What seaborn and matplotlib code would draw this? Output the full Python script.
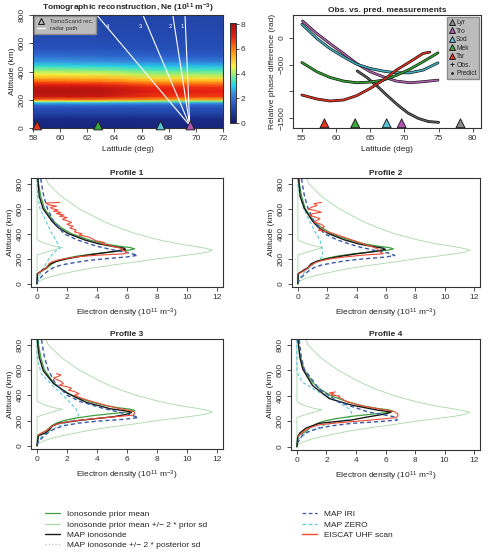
import numpy as np
import matplotlib
matplotlib.use("Agg")
import matplotlib.pyplot as plt
import seaborn as sns
from matplotlib.lines import Line2D
from matplotlib.colors import LinearSegmentedColormap

sns.set_style("ticks")
plt.rcParams["font.family"] = ["Liberation Sans", "DejaVu Sans"]
plt.rcParams["font.size"] = 6
plt.rcParams["axes.edgecolor"] = "#333333"
plt.rcParams["axes.linewidth"] = 0.8
plt.rcParams["xtick.color"] = "#333333"
plt.rcParams["ytick.color"] = "#333333"
plt.rcParams["mathtext.default"] = "regular"

# ---- tomographic reconstruction (Ne, 1e11 m^-3), read per latitude column ----
heat_lat = [58, 63, 67, 72]
heat_alt = [0, 60, 100, 140, 165, 180, 192, 205, 225, 260, 290, 310, 330, 350, 380, 410, 440, 470, 510, 560, 650, 800]
ne_lat58 = [0.3, 0.4, 1.0, 1.3, 1.9, 2.9, 4.6, 6.5, 7.6, 7.8, 7.6, 7.0, 6.3, 5.5, 4.6, 3.9, 3.2, 2.5, 1.9, 1.4, 1.2, 1.1]
ne_lat63 = [0.3, 0.4, 1.0, 1.3, 1.9, 2.8, 4.4, 6.3, 7.5, 7.7, 7.5, 6.9, 6.1, 5.4, 4.5, 3.8, 3.1, 2.4, 1.8, 1.4, 1.2, 1.1]
ne_lat67 = [0.3, 0.4, 1.0, 1.3, 1.8, 2.6, 4.0, 5.8, 6.8, 7.1, 6.9, 6.3, 5.6, 4.9, 4.1, 3.5, 2.9, 2.2, 1.7, 1.3, 1.2, 1.1]
ne_lat72 = [0.3, 0.4, 1.0, 1.3, 1.8, 2.6, 3.9, 5.6, 6.7, 7.0, 6.8, 6.2, 5.5, 4.8, 4.0, 3.4, 2.8, 2.1, 1.6, 1.3, 1.2, 1.1]

# colour scale of the map (value, colour)
cmap_vals = [0, 0.9, 1.6, 2.4, 3.0, 3.5, 4.0, 4.6, 5.4, 6.2, 7.0, 8.1]
cmap_cols = ["#151a6e", "#1f3d9e", "#2a5cc8", "#3a90e0", "#20d0f0", "#50e8b0",
             "#a0f070", "#f8f040", "#ffb020", "#ff6a10", "#e82010", "#a01010"]

# radar paths from Tromso
radar_lat = 69.55
path_top_lat = [69.2, 68.3, 66.1, 62.7]
path_labels = ["1", "2", "3", "4"]
path_label_lat = [69.0, 68.1, 65.9, 63.5]

# receivers
rec_names = ["Lyr", "Tro", "Sod", "Mek", "Tar"]
rec_lat = [78.2, 69.6, 67.4, 62.8, 58.3]
rec_colors = ["#8a8a8a", "#b455b4", "#55c3d3", "#3aa83a", "#e8321e"]
line_colors = ["#5a5a5a", "#b060b0", "#40b0c0", "#30a030", "#e03020"]

# ---- observed vs predicted relative phase (rad) ----
lyr_lat = [63.1, 64.5, 66, 67.5, 69, 70.5, 72, 73.5, 75]
lyr_phase = [-620, -740, -900, -1080, -1250, -1400, -1500, -1560, -1575]
tro_lat = [55.1, 57.2, 59.1, 61.1, 63.0, 65.0, 66.9, 68.8, 70.8, 72.7, 74.9]
tro_phase = [308, 74, -111, -296, -481, -635, -728, -808, -839, -820, -790]
sod_lat = [55.0, 57.2, 59.1, 61.1, 63.0, 65.0, 66.9, 68.8, 70.8, 72.7, 74.9]
sod_phase = [247, -18, -204, -358, -494, -574, -623, -654, -654, -605, -469]
mek_lat = [55.0, 57.2, 59.1, 61.1, 63.0, 65.0, 66.9, 68.8, 70.8, 72.7, 74.9]
mek_phase = [-463, -635, -740, -808, -839, -827, -790, -703, -586, -450, -284]
tar_lat = [55.0, 57.2, 59.1, 61.1, 63.0, 65.0, 66.9, 68.8, 70.8, 72.7, 73.7]
tar_phase = [-1067, -1141, -1178, -1160, -1080, -944, -790, -605, -450, -296, -270]
phase_lats = [lyr_lat, tro_lat, sod_lat, mek_lat, tar_lat]
phase_vals = [lyr_phase, tro_phase, sod_phase, mek_phase, tar_phase]

# ---- ionosonde prior (same in every profile) ----
prior_alt = [840, 800, 700, 600, 500, 450, 400, 350, 320, 300, 290, 280, 270, 255, 240, 220, 200, 180, 160, 140, 120, 100, 85, 0]
prior_mean = [0.08, 0.1, 0.25, 0.5, 1.1, 1.6, 2.3, 3.5, 4.5, 5.5, 6.2, 6.5, 6.2, 5.0, 3.8, 2.6, 1.8, 1.3, 1.0, 0.8, 0.6, 0.3, 0.05, 0]
prior_hi_alt = [840, 800, 700, 600, 500, 450, 400, 350, 320, 300, 285, 270, 255, 240, 220, 200, 175, 150, 125, 100, 80, 60, 40, 20, 0]
prior_hi = [0.6, 0.75, 1.6, 2.8, 4.4, 5.4, 6.6, 8.2, 9.4, 10.5, 11.2, 11.7, 11.4, 10.7, 9.4, 8.0, 6.6, 5.0, 3.6, 2.5, 1.7, 1.0, 0.45, 0.1, 0]
prior_lo_alt = [840, 355, 340, 320, 300, 290, 275, 260, 245, 230, 0]
prior_lo = [0, 0, 0.2, 0.6, 1.2, 1.7, 1.25, 0.8, 0.4, 0, 0]

# ---- profile 1 ----
p1_map_alt = [840, 800, 700, 600, 500, 450, 400, 350, 320, 300, 285, 275, 260, 240, 220, 200, 180, 160, 140, 130, 110, 90, 80, 0]
p1_map = [0.05, 0.08, 0.15, 0.4, 1.0, 1.4, 2.1, 3.2, 4.1, 5.0, 5.8, 5.9, 5.2, 4.0, 2.9, 2.0, 1.3, 0.9, 0.7, 0.65, 0.35, 0.15, 0.02, 0]
p1_iri_alt = [840, 800, 700, 600, 500, 400, 350, 300, 265, 245, 228, 215, 200, 185, 170, 150, 130, 100, 70, 40, 15]
p1_iri = [0.25, 0.3, 0.45, 0.7, 1.1, 1.8, 2.7, 4.0, 5.3, 6.2, 6.7, 6.0, 4.5, 3.3, 2.5, 1.6, 1.1, 0.7, 0.4, 0.15, 0]
p1_zero_alt = [840, 700, 600, 500, 400, 340, 300, 285, 270, 250, 200, 150, 100, 50, 0]
p1_zero = [0, 0.05, 0.2, 0.6, 1.0, 1.3, 1.45, 1.5, 1.35, 1.1, 0.8, 0.55, 0.3, 0.1, 0]
p1_uhf_alt = [650, 645, 630, 620, 610, 600, 590, 580, 570, 560, 550, 540, 530, 515, 500, 490, 475, 460, 445, 430, 415, 400, 390, 375, 360, 345, 330, 320, 310, 300, 290, 280, 270, 260, 250, 240, 230, 220, 210, 200, 190, 180, 170, 160, 150, 140, 125, 110, 95, 80]
p1_uhf = [1.5, 0.6, 0.8, 1.3, 0.9, 1.0, 1.4, 1.1, 1.6, 1.3, 1.8, 1.5, 2.0, 1.7, 2.1, 2.3, 2.0, 2.4, 2.2, 2.6, 2.5, 3.0, 2.8, 3.4, 3.7, 3.9, 4.5, 4.3, 4.8, 5.0, 5.4, 5.7, 5.6, 5.9, 6.0, 5.8, 4.2, 3.0, 2.3, 1.8, 1.4, 1.1, 0.9, 0.8, 0.75, 0.7, 0.6, 0.4, 0.2, 0.05]

# ---- profile 2 ----
p2_map_alt = [840, 800, 700, 600, 500, 450, 400, 350, 320, 300, 285, 275, 260, 240, 220, 200, 180, 160, 140, 130, 110, 90, 80, 0]
p2_map = [0.05, 0.08, 0.15, 0.45, 1.0, 1.4, 2.1, 3.2, 4.1, 5.0, 5.8, 5.95, 5.3, 4.0, 2.9, 2.0, 1.3, 0.9, 0.75, 0.7, 0.4, 0.15, 0.02, 0]
p2_iri_alt = [840, 800, 700, 600, 500, 400, 350, 300, 265, 245, 226, 213, 200, 185, 170, 150, 130, 100, 70, 40, 15]
p2_iri = [0.25, 0.3, 0.45, 0.7, 1.1, 1.8, 2.7, 4.0, 5.3, 6.2, 6.6, 5.9, 4.5, 3.3, 2.5, 1.6, 1.1, 0.7, 0.4, 0.15, 0]
p2_zero_alt = [840, 800, 700, 600, 500, 400, 350, 300, 286, 250, 220, 180, 140, 100, 60, 13]
p2_zero = [0, 0, 0.15, 0.4, 0.8, 1.25, 1.5, 1.6, 1.62, 1.68, 1.7, 1.3, 0.9, 0.5, 0.2, 0]
p2_uhf_alt = [650, 640, 625, 610, 597, 585, 572, 560, 546, 533, 520, 507, 494, 475, 455, 440, 429, 410, 390, 370, 350, 330, 310, 295, 280, 270, 255, 240, 230, 215, 200, 185, 170, 150, 130, 110, 90, 80]
p2_uhf = [1.6, 1.1, 1.3, 0.9, 0.7, 1.2, 1.6, 1.0, 0.8, 1.2, 1.5, 1.3, 1.1, 1.6, 1.8, 1.6, 1.4, 2.2, 2.7, 3.2, 3.7, 4.2, 4.7, 5.1, 5.4, 5.5, 5.6, 5.8, 4.5, 3.2, 2.2, 1.6, 1.2, 0.9, 0.7, 0.5, 0.2, 0.05]

# ---- profile 3 ----
p3_map_alt = [840, 800, 700, 593, 493, 418, 343, 293, 275, 265, 250, 230, 205, 180, 155, 130, 105, 80, 0]
p3_map = [0.03, 0.05, 0.15, 0.42, 1.1, 2.0, 3.3, 4.9, 6.0, 6.3, 6.0, 5.1, 3.1, 1.5, 1.0, 0.85, 0.6, 0.1, 0]
p3_iri_alt = [840, 800, 700, 600, 500, 400, 350, 300, 260, 235, 223, 210, 195, 180, 160, 130, 100, 70, 40, 15]
p3_iri = [0.3, 0.35, 0.5, 0.75, 1.2, 2.0, 2.9, 4.3, 5.7, 6.5, 6.75, 5.8, 4.0, 2.8, 1.8, 1.1, 0.7, 0.4, 0.15, 0]
p3_zero_alt = [840, 718, 650, 568, 468, 368, 293, 250, 230, 205, 170, 130, 100, 80, 40, 0]
p3_zero = [0, 0, 0.1, 0.3, 1.1, 2.0, 2.6, 2.75, 2.75, 2.4, 1.7, 1.0, 0.6, 0.35, 0.1, 0]
p3_uhf_alt = [570, 560, 548, 538, 525, 510, 493, 480, 468, 455, 440, 430, 423, 413, 400, 380, 360, 340, 320, 300, 285, 275, 268, 255, 243, 230, 215, 200, 185, 170, 155, 140, 125, 110, 95, 80]
p3_uhf = [1.3, 1.6, 1.4, 1.1, 1.3, 1.6, 1.75, 1.5, 2.0, 2.3, 2.1, 2.5, 2.6, 2.8, 2.5, 2.9, 3.4, 4.0, 4.6, 5.3, 5.9, 6.3, 6.5, 6.5, 6.4, 5.2, 3.8, 2.6, 1.8, 1.3, 1.0, 0.85, 0.7, 0.45, 0.2, 0.05]

# ---- profile 4 ----
p4_map_alt = [840, 813, 700, 608, 480, 378, 327, 287, 274, 260, 248, 230, 210, 184, 146, 108, 82, 0]
p4_map = [0.08, 0.1, 0.2, 0.4, 1.06, 2.2, 3.7, 5.5, 6.4, 6.1, 5.5, 4.6, 3.7, 1.5, 0.6, 0.2, 0.07, 0]
p4_iri_alt = [840, 800, 700, 608, 454, 352, 274, 235, 210, 197, 184, 165, 146, 120, 95, 60, 31]
p4_iri = [0.15, 0.2, 0.3, 0.5, 1.5, 2.8, 4.8, 6.6, 6.8, 5.5, 3.7, 2.4, 1.5, 0.8, 0.4, 0.2, 0.05]
p4_zero_alt = [840, 608, 560, 505, 428, 351, 300, 270, 248, 210, 172, 120, 69, 18]
p4_zero = [0, 0, 0.1, 0.4, 1.5, 2.8, 3.5, 3.7, 3.7, 3.3, 1.9, 0.84, 0.18, 0]
p4_uhf_alt = [430, 422, 415, 405, 398, 389, 375, 365, 350, 330, 312, 300, 287, 275, 261, 245, 228, 212, 197, 185, 172, 150, 133, 115, 95, 80]
p4_uhf = [2.6, 2.2, 2.5, 2.3, 2.9, 2.8, 3.1, 3.2, 3.5, 4.1, 4.8, 5.4, 6.1, 6.6, 6.8, 6.85, 6.7, 5.2, 3.7, 2.5, 1.5, 0.9, 0.6, 0.4, 0.2, 0.05]

profiles = [
    ("Profile 1", p1_map_alt, p1_map, p1_iri_alt, p1_iri, p1_zero_alt, p1_zero, p1_uhf_alt, p1_uhf),
    ("Profile 2", p2_map_alt, p2_map, p2_iri_alt, p2_iri, p2_zero_alt, p2_zero, p2_uhf_alt, p2_uhf),
    ("Profile 3", p3_map_alt, p3_map, p3_iri_alt, p3_iri, p3_zero_alt, p3_zero, p3_uhf_alt, p3_uhf),
    ("Profile 4", p4_map_alt, p4_map, p4_iri_alt, p4_iri, p4_zero_alt, p4_zero, p4_uhf_alt, p4_uhf),
]

c_prior = "#3fa03f"
c_prior_sd = "#a8d8a8"
c_map = "#1a1a1a"
c_post_sd = "#bdbdbd"
c_iri = "#3a5aa8"
c_zero = "#5cc8d8"
c_uhf = "#f04a35"

W, H = 488, 555
fig = plt.figure(figsize=(W / 100, H / 100), dpi=100)


def box(x0, y0, x1, y1):
    # pixel box in the picture -> figure fraction
    return [x0 / W, 1 - y1 / H, (x1 - x0) / W, (y1 - y0) / H]


def r_style(ax):
    ax.tick_params(labelsize=6, length=3, width=0.6, pad=2, colors="#333333")
    for lab in ax.get_yticklabels():
        lab.set_rotation(90)
        lab.set_va("center")
    for s in ax.spines.values():
        s.set_visible(True)
        s.set_color("#333333")


def line(ax, x, y, **kw):
    sns.lineplot(x=x, y=y, ax=ax, sort=False, estimator=None, **kw)


# ---------------- tomographic map ----------------
ne_cmap = LinearSegmentedColormap.from_list(
    "ne", [(v / cmap_vals[-1], c) for v, c in zip(cmap_vals, cmap_cols)])
ax = fig.add_axes(box(33, 15, 223, 128))
X, Y = np.meshgrid(heat_lat, heat_alt)
C = np.column_stack([ne_lat58, ne_lat63, ne_lat67, ne_lat72])
mesh = ax.pcolormesh(X, Y, C, shading="gouraud", cmap=ne_cmap, vmin=0, vmax=cmap_vals[-1])
for top, lab, llat in zip(path_top_lat, path_labels, path_label_lat):
    ax.plot([radar_lat, top], [18, 800], color="white", lw=0.8)
    ax.text(llat, 720, lab, color="white", fontsize=4.3, ha="center", va="center")
ax.scatter(rec_lat[1:], [18] * 4, marker="^", s=40, c=rec_colors[1:], edgecolors="#222222",
           linewidths=0.7, zorder=5, clip_on=False)
ax.set_xlim(58, 72)
ax.set_ylim(0, 800)
ax.set_xticks(range(58, 73, 2))
ax.set_yticks([0, 200, 400, 600, 800])
ax.set_xlabel("Latitude (deg)", fontsize=6, labelpad=3)
ax.set_ylabel("Altitude (km)", fontsize=6, labelpad=2)
ax.set_title("Tomographic reconstruction, Ne (10$^{11}$ m$^{-3}$)", fontsize=6,
             fontweight="bold", pad=2)
r_style(ax)
hnd = [Line2D([], [], marker="^", ls="none", mfc="none", mec="#222222", ms=4, mew=0.8),
       Line2D([], [], color="white", lw=0.9)]
leg = ax.legend(hnd, ["TomoScand rec.", "radar path"], loc="upper left", fontsize=4.3,
                frameon=True, fancybox=False, facecolor="#bcbcbc", edgecolor="#8a8a8a",
                framealpha=1, borderaxespad=0.1, handlelength=1.4, labelspacing=0.3,
                borderpad=0.5)
for t in leg.get_texts():
    t.set_color("#333333")

cax = fig.add_axes(box(230, 23, 236, 123))
cb = fig.colorbar(mesh, cax=cax, ticks=[0, 2, 4, 6, 8])
cb.ax.tick_params(labelsize=6, length=2, width=0.6, pad=1.5)
cb.outline.set_linewidth(0.7)

# ---------------- phase measurements ----------------
ax = fig.add_axes(box(293, 15, 481, 128))
for lat, ph, col in zip(phase_lats, phase_vals, line_colors):
    line(ax, lat, ph, color="#111111", lw=2.0)
    line(ax, lat, ph, color=col, lw=1.1)
ax.scatter(rec_lat, [-1592] * 5, marker="^", s=40, c=rec_colors, edgecolors="#222222",
           linewidths=0.7, zorder=5)
ax.set_xlim(53.7, 81.2)
ax.set_ylim(-1680, 420)
ax.set_xticks([55, 60, 65, 70, 75, 80])
ax.set_yticks([-1500, -1000, -500, 0])
ax.set_yticklabels(["\u22121500", "", "\u2212500", "0"])
ax.set_xlabel("Latitude (deg)", fontsize=6, labelpad=3)
ax.set_ylabel("Relative phase difference (rad)", fontsize=6, labelpad=2)
ax.set_title("Obs. vs. pred. measurements", fontsize=6, fontweight="bold", pad=2)
r_style(ax)
hnd = [Line2D([], [], marker="^", ls="none", mfc=c, mec="#222222", ms=4.5, mew=0.7) for c in rec_colors]
hnd += [Line2D([], [], marker="+", ls="none", color="#222222", ms=3, mew=0.7),
        Line2D([], [], marker=".", ls="none", color="#222222", ms=2)]
leg = ax.legend(hnd, rec_names + ["Obs.", "Predict"], loc="upper right", fontsize=4.8,
                frameon=True, fancybox=False, facecolor="#bcbcbc", edgecolor="#8a8a8a",
                framealpha=1, borderaxespad=0.3, handlelength=0.8, handletextpad=0.3,
                labelspacing=0.22, borderpad=0.35)

# ---------------- profiles ----------------
boxes = [(31, 178, 223, 287), (292, 178, 480, 287), (31, 339, 223, 449), (291, 339, 480, 450)]
for (x0, y0, x1, y1), prof in zip(boxes, profiles):
    title, m_alt, m_ne, i_alt, i_ne, z_alt, z_ne, u_alt, u_ne = prof
    ax = fig.add_axes(box(x0, y0, x1, y1))
    line(ax, prior_hi, prior_hi_alt, color=c_prior_sd, lw=0.6)
    line(ax, prior_lo, prior_lo_alt, color=c_prior_sd, lw=0.6)
    line(ax, z_ne, z_alt, color=c_zero, lw=0.8, linestyle=(0, (3, 2)))
    line(ax, prior_mean, prior_alt, color=c_prior, lw=0.9)
    line(ax, m_ne, m_alt, color=c_map, lw=1.0)
    line(ax, i_ne, i_alt, color=c_iri, lw=1.0, linestyle=(0, (3, 2)))
    line(ax, u_ne, u_alt, color=c_uhf, lw=0.8)
    ax.set_xlim(-0.4, 12.4)
    ax.set_ylim(-25, 845)
    ax.set_xticks(range(0, 13, 2))
    ax.set_yticks([0, 200, 400, 600, 800])
    ax.set_xlabel("Electron density (10$^{11}$ m$^{-3}$)", fontsize=6, labelpad=4)
    ax.set_ylabel("Altitude (km)", fontsize=6, labelpad=2)
    ax.set_title(title, fontsize=6, fontweight="bold", pad=2)
    r_style(ax)

# ---------------- shared legend ----------------
left = [Line2D([], [], color=c_prior, lw=0.9), Line2D([], [], color=c_prior_sd, lw=0.9),
        Line2D([], [], color=c_map, lw=1.0), Line2D([], [], color=c_post_sd, lw=0.9, ls=":")]
fig.legend(left, ["Ionosonde prior mean", "Ionosonde prior mean +/\u2212 2 * prior sd",
                  "MAP ionosonde", "MAP ionosonde +/\u2212 2 * posterior sd"],
           loc="upper left", bbox_to_anchor=(37 / W, 1 - 503 / H), frameon=False,
           fontsize=6, handlelength=1.9, labelspacing=0.3, handletextpad=0.8)
right = [Line2D([], [], color=c_iri, lw=0.9, ls=(0, (3, 2))),
         Line2D([], [], color=c_zero, lw=0.9, ls=(0, (3, 2))),
         Line2D([], [], color=c_uhf, lw=1.0)]
fig.legend(right, ["MAP IRI", "MAP ZERO", "EISCAT UHF scan"],
           loc="upper left", bbox_to_anchor=(294 / W, 1 - 503 / H), frameon=False,
           fontsize=6, handlelength=1.9, labelspacing=0.3, handletextpad=0.8)

fig.savefig("out.png", dpi=100)
